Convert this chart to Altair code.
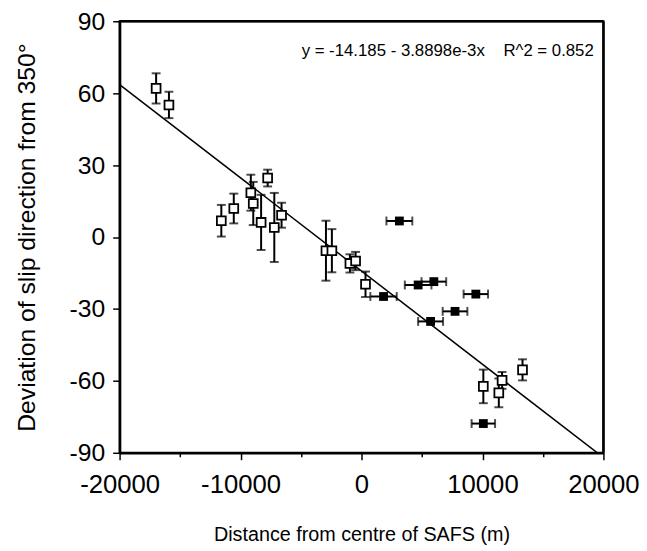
import altair as alt
import pandas as pd

# open squares (vertical error bars)
open_x = [-16980, -15920, -11590, -10560, -9150, -8950, -7760, -8300, -7210, -6610,
          -2940, -2450, -960, -490, 330, 10070, 11620, 11350, 13310]
open_y = [62.0, 55.1, 6.8, 11.9, 18.5, 14.0, 24.6, 6.1, 4.0, 9.1,
          -5.7, -5.7, -11.0, -10.0, -19.7, -62.3, -59.8, -65.0, -55.4]
open_err = [6.3, 5.5, 6.6, 6.2, 7.5, 9.0, 3.5, 11.5, 14.4, 5.2,
            12.5, 9.0, 3.8, 3.8, 5.3, 7.0, 3.5, 6.0, 4.4]

# filled squares (horizontal error bars)
filled_x = [3130, 1820, 4680, 5980, 9450, 7730, 5710, 10070]
filled_y = [6.7, -24.8, -20.0, -18.6, -23.8, -31.0, -35.2, -77.8]
filled_xerr = [1070, 1090, 1100, 1020, 1010, 1020, 1030, 970]

# regression line y = a + b x
reg_a = -14.185
reg_b = -3.8898e-3
line_x = [-20000, 20000]
NB = "\u00a0"
eq_text = "y = -14.185 - 3.8898e-3x" + NB * 4 + "R^2 = 0.852"

# axis extents (frame)
x_domain = [-20000, 20000]
y_domain = [-90, 90]

FONT = "Liberation Sans"

open_df = pd.DataFrame({"x": open_x, "y": open_y, "e": open_err})
open_df["lo"] = open_df["y"] - open_df["e"]
open_df["hi"] = open_df["y"] + open_df["e"]
filled_df = pd.DataFrame({"x": filled_x, "y": filled_y, "e": filled_xerr})
filled_df["lo"] = filled_df["x"] - filled_df["e"]
filled_df["hi"] = filled_df["x"] + filled_df["e"]
line_df = pd.DataFrame({"x": line_x})
top_df = pd.DataFrame({"x": [x_domain[0]], "x2": [x_domain[1]], "y": [y_domain[1]]})
right_df = pd.DataFrame({"x": [x_domain[1]], "y": [y_domain[0]], "y2": [y_domain[1]]})

x_vals = list(range(-20000, 20001, 5000))
y_vals = list(range(-90, 91, 15))

xscale = alt.Scale(domain=x_domain, nice=False, zero=False)
yscale = alt.Scale(domain=y_domain, nice=False, zero=False)

xaxis = alt.Axis(
    values=x_vals, grid=False, title="Distance from centre of SAFS (m)",
    labelExpr="datum.value % 10000 === 0 ? '' + datum.value : ''",
    tickSize={"condition": {"test": "datum.value % 10000 === 0", "value": 7}, "value": 4},
    tickWidth=1.5, tickColor="black", domainColor="black", domainWidth=2.5,
    labelFont=FONT, labelFontSize=26, labelColor="black", labelPadding=12,
    titleFont=FONT, titleFontSize=20, titleFontWeight="normal", titleColor="black",
    titlePadding=28, labelFlush=False, labelOverlap=False,
)
yaxis = alt.Axis(
    values=y_vals, grid=False, title="Deviation of slip direction from 350°",
    labelExpr="datum.value % 30 === 0 ? '' + datum.value : ''",
    tickSize={"condition": {"test": "datum.value % 30 === 0", "value": 7}, "value": 4},
    tickWidth=1.5, tickColor="black", domainColor="black", domainWidth=2.5,
    labelFont=FONT, labelFontSize=25, labelColor="black", labelPadding=8,
    titleFont=FONT, titleFontSize=25, titleFontWeight="normal", titleColor="black",
    titlePadding=30, labelFlush=False, labelOverlap=False,
)

reg = alt.Chart(line_df).transform_calculate(
    y=f"{reg_a} + ({reg_b}) * datum.x"
).mark_line(color="black", strokeWidth=1.5, clip=True).encode(
    x=alt.X("x:Q", scale=xscale, axis=xaxis),
    y=alt.Y("y:Q", scale=yscale, axis=yaxis),
)

top_rule = alt.Chart(top_df).mark_rule(color="black", strokeWidth=2.5).encode(
    x="x:Q", x2="x2:Q", y="y:Q")
right_rule = alt.Chart(right_df).mark_rule(color="black", strokeWidth=2.5).encode(
    x="x:Q", y="y:Q", y2="y2:Q")

o_base = alt.Chart(open_df)
o_bar = o_base.mark_rule(color="black", strokeWidth=2).encode(
    x="x:Q", y="lo:Q", y2="hi:Q")
o_cap_lo = o_base.mark_tick(color="black", orient="horizontal", size=9, thickness=2).encode(
    x="x:Q", y="lo:Q")
o_cap_hi = o_base.mark_tick(color="black", orient="horizontal", size=9, thickness=2).encode(
    x="x:Q", y="hi:Q")
o_pt = o_base.mark_square(size=80, fill="white", stroke="black", strokeWidth=1.8, opacity=1).encode(
    x="x:Q", y="y:Q")

f_base = alt.Chart(filled_df)
f_bar = f_base.mark_rule(color="black", strokeWidth=2).encode(
    x="lo:Q", x2="hi:Q", y="y:Q")
f_cap_lo = f_base.mark_tick(color="black", orient="vertical", size=9, thickness=2).encode(
    x="lo:Q", y="y:Q")
f_cap_hi = f_base.mark_tick(color="black", orient="vertical", size=9, thickness=2).encode(
    x="hi:Q", y="y:Q")
f_pt = f_base.mark_square(size=80, color="black", opacity=1).encode(
    x="x:Q", y="y:Q")

txt = alt.Chart(pd.DataFrame({"x": [19200], "y": [77.6], "t": [eq_text]})).mark_text(
    font=FONT, fontSize=17, align="right", baseline="middle", color="black"
).encode(x="x:Q", y="y:Q", text="t:N")

chart = alt.layer(
    reg, top_rule, right_rule, o_bar, o_cap_lo, o_cap_hi, o_pt,
    f_bar, f_cap_lo, f_cap_hi, f_pt, txt
).properties(
    width=490, height=437,
    autosize=alt.AutoSizeParams(type="none"),
    padding={"left": 113, "top": 10, "right": 36, "bottom": 96},
    background="white",
).configure_view(stroke="black", strokeWidth=2)

chart.save("out.html", embed_options={"renderer": "svg", "actions": False})
